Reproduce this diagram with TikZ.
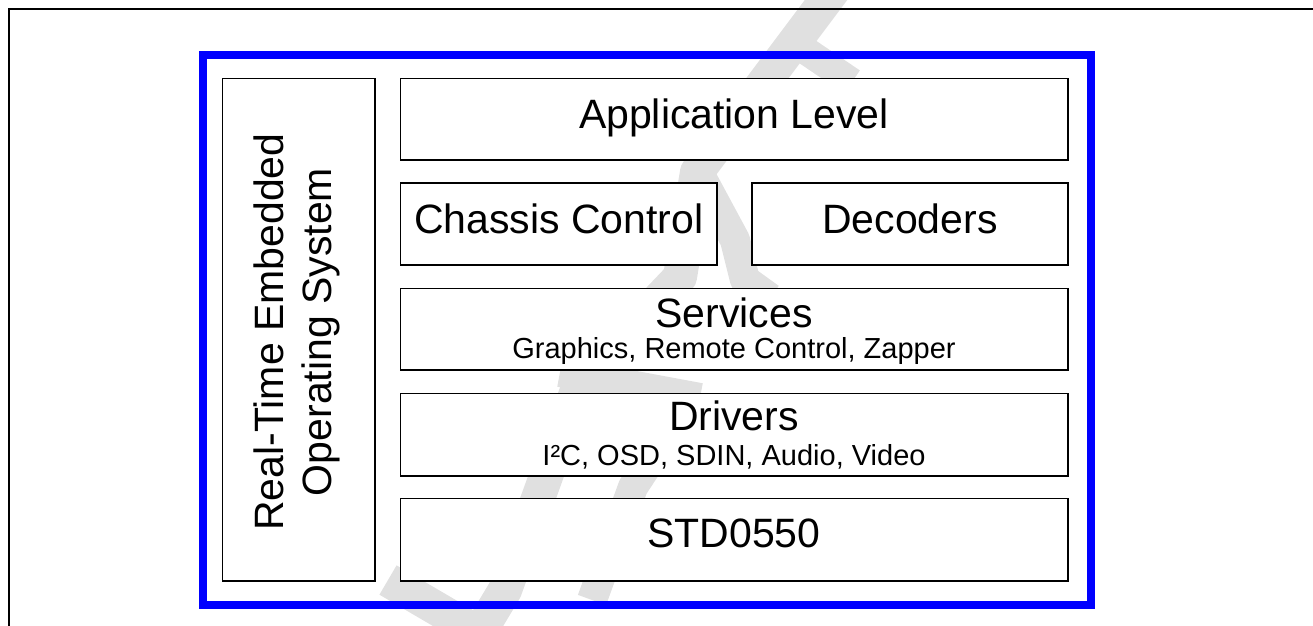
\documentclass[tikz,border=0pt]{standalone}
\usepackage{fontspec}
\setmainfont{Liberation Sans}
\definecolor{wmgray}{RGB}{224,224,224}
\definecolor{frameblue}{RGB}{0,0,255}
\newcommand\bigsz{\fontsize{41}{47}\selectfont}
\newcommand\subsz{\fontsize{29}{34}\selectfont}
\begin{document}
\begin{tikzpicture}[x=1pt,y=-1pt,
  box/.style={draw, line width=1.6pt, fill=white, inner sep=0pt, outer sep=0pt},
  lbl/.style={anchor=base, inner sep=0pt, font=\bigsz},
  sublbl/.style={anchor=base, inner sep=0pt, font=\subsz},
  wm/.style={draw=wmgray, line cap=butt, line join=round}]
\useasboundingbox (0,0) rectangle (1313,625);
\begin{scope}
  \clip (0,0) rectangle (1313,625);
  % faint watermark
  \draw[wm, line width=34pt] (835,-12) -- (697,172) -- (680,277) -- (580,382) -- (505,590) -- (478,635);
  \draw[wm, line width=28pt] (790,40) -- (852,82);
  \draw[wm, line width=30pt] (700,175) -- (735,240) -- (745,280) -- (770,298);
  \draw[wm, line width=30pt] (560,372) -- (700,398);
  \draw[wm, line width=30pt] (690,400) -- (633,487) -- (592,600);
  \draw[wm, line width=34pt] (388,580) -- (470,628);
  % outer frame
  \draw[line width=2pt] (9,640) -- (9,8.5) -- (1320,8.5);
\end{scope}
% blue frame
\node[draw=frameblue, line width=8pt, minimum width=888pt, minimum height=550pt, inner sep=0pt] (stack) at (647,330) {};
% boxes
\node[box, minimum width=152.5pt, minimum height=502.5pt] (os) at (298.75,329.75) {};
\node[box, minimum width=667.5pt, minimum height=81.5pt] (app) at (734.25,119.25) {};
\node[box, minimum width=316.5pt, minimum height=82pt] (cha) at (558.75,224) {};
\node[box, minimum width=316pt, minimum height=82pt] (dec) at (910,224) {};
\node[box, minimum width=667.5pt, minimum height=81.5pt] (svc) at (734.25,329.25) {};
\node[box, minimum width=667.5pt, minimum height=82.5pt] (drv) at (734.25,434.75) {};
\node[box, minimum width=667.5pt, minimum height=82.5pt] (std) at (734.25,539.75) {};
% labels
\node[lbl] (appt) at (734,128) {Application Level};
\node[lbl] (chat) at (558.75,233) {Chassis Control};
\node[lbl] (dect) at (910,233) {Decoders};
\node[lbl] (svct) at (734,327) {Services};
\node[sublbl] (svcs) at (734,358) {Graphics, Remote Control, Zapper};
\node[lbl] (drvt) at (734,430) {Drivers};
\node[sublbl] (drvs) at (734,465) {I²C, OSD, SDIN, Audio, Video};
\node[lbl] (stdt) at (734,547) {STD0550};
\node[lbl, rotate=90] (os1) at (283,332) {Real-Time Embedded};
\node[lbl, rotate=90] (os2) at (331,332) {Operating System};
\end{tikzpicture}
\end{document}
